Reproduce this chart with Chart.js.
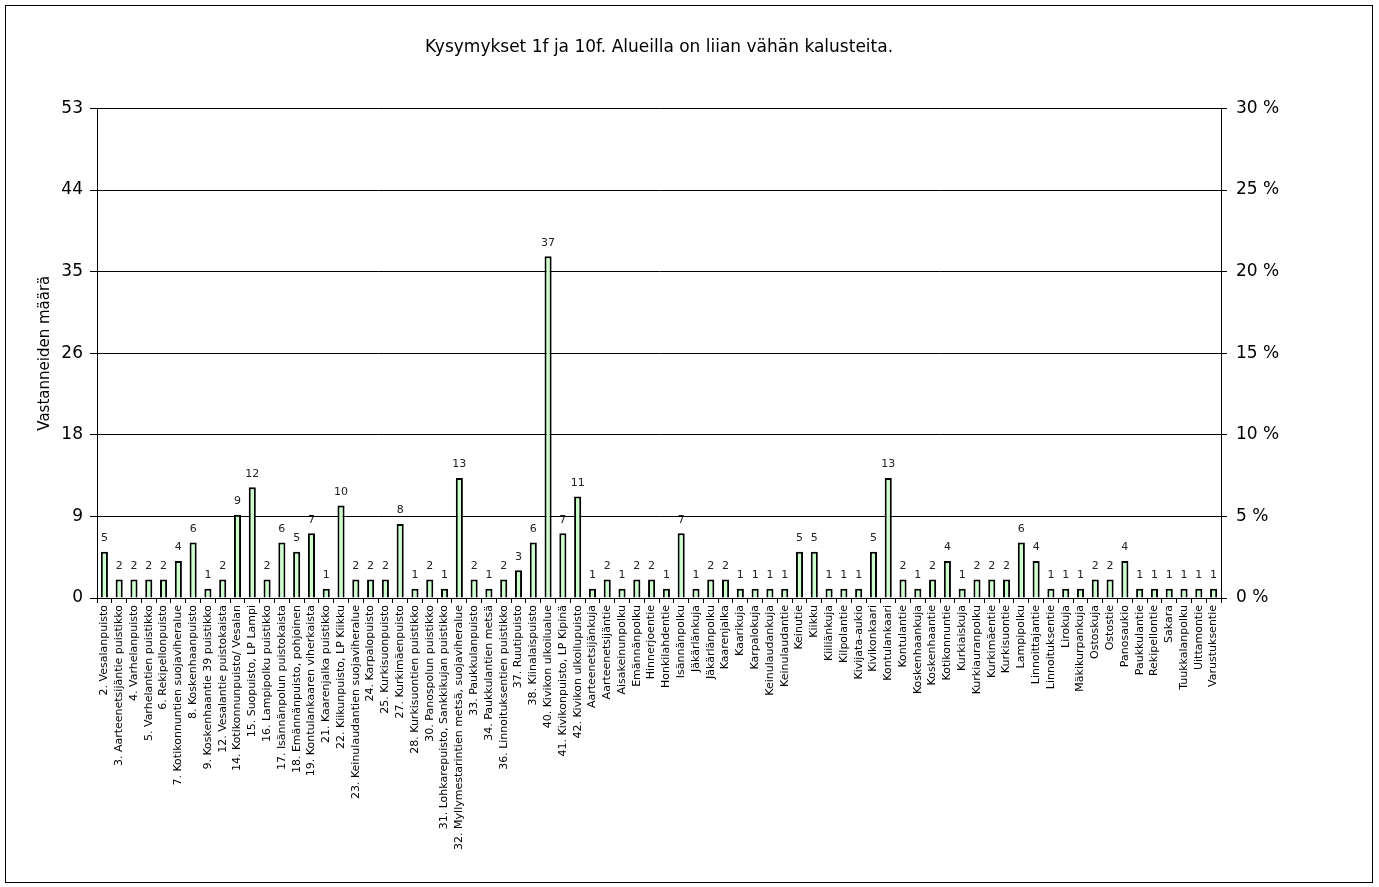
<!DOCTYPE html>
<html><head><meta charset="utf-8">
<script src="https://cdn.jsdelivr.net/npm/chart.js@4.4.1/dist/chart.umd.min.js"></script>
<style>
html,body{margin:0;padding:0;background:#fff;}
#frame{position:absolute;left:5px;top:5px;width:1366px;height:876px;border:1px solid #000;}
#wrap{position:absolute;left:0;top:0;width:1379px;height:887px;}
</style></head><body>
<div id="frame"></div>
<div id="wrap"><canvas id="c" width="1379" height="887"></canvas></div>
<script>
const chartTitle = 'Kysymykset 1f ja 10f. Alueilla on liian vähän kalusteita.';
const yTitle = 'Vastanneiden määrä';
const categories = [
 '2. Vesalanpuisto','3. Aarteenetsijäntie puistikko','4. Varhelanpuisto','5. Varhelantien puistikko','6. Rekipellonpuisto',
 '7. Kotikonnuntien suojaviheralue','8. Koskenhaanpuisto','9. Koskenhaantie 39 puistikko','12. Vesalantie puistokaista','14. Kotikonnunpuisto/ Vesalan',
 '15. Suopuisto, LP Lampi','16. Lampipolku puistikko','17. Isännänpolun puistokaista','18. Emännänpuisto, pohjoinen','19. Kontulankaaren viherkaista',
 '21. Kaarenjalka puistikko','22. Kiikunpuisto, LP Kiikku','23. Keinulaudantien suojaviheralue','24. Karpalopuisto','25. Kurkisuonpuisto',
 '27. Kurkimäenpuisto','28. Kurkisuontien puistikko','30. Panospolun puistikko','31. Lohkarepuisto, Sankkikujan puistikko','32. Myllymestarintien metsä, suojaviheralue',
 '33. Paukkulanpuisto','34. Paukkulantien metsä','36. Linnoituksentien puistikko','37. Ruutipuisto','38. Kiinalaispuisto',
 '40. Kivikon ulkoilualue','41. Kivikonpuisto, LP Kipinä','42. Kivikon ulkoilupuisto','Aarteenetsijänkuja','Aarteenetsijäntie',
 'Aisakeinunpolku','Emännänpolku','Hinnerjoentie','Honkilahdentie','Isännänpolku',
 'Jäkärlänkuja','Jäkärlänpolku','Kaarenjalka','Kaarikuja','Karpalokuja',
 'Keinulaudankuja','Keinulaudantie','Keinutie','Kiikku','Kiiliänkuja',
 'Kilpolantie','Kivijata-aukio','Kivikonkaari','Kontulankaari','Kontulantie',
 'Koskenhaankuja','Koskenhaantie','Kotikonnuntie','Kurkiaiskuja','Kurkiauranpolku',
 'Kurkimäentie','Kurkisuontie','Lampipolku','Linnoittajantie','Linnoituksentie',
 'Lirokuja','Mäkikurpankuja','Ostoskuja','Ostostie','Panosaukio',
 'Paukkulantie','Rekipellontie','Sakara','Tuukkalanpolku','Uittamontie','Varustuksentie'
];
const values = [
 5,2,2,2,2,
 4,6,1,2,9,
 12,2,6,5,7,
 1,10,2,2,2,
 8,1,2,1,13,
 2,1,2,3,6,
 37,7,11,1,2,
 1,2,2,1,7,
 1,2,2,1,1,
 1,1,5,5,1,
 1,1,5,13,2,
 1,2,4,1,2,
 2,2,6,4,1,
 1,1,2,2,4,
 1,1,1,1,1,1
];
const leftTickLabels = ['0','9','18','26','35','44','53'];
const leftMax = 53;
const rightMax = 30;
const rightStep = 5;

const FONT = '"DejaVu Sans", Verdana, sans-serif';

const valueLabels = {
  id: 'valueLabels',
  afterDatasetsDraw(chart) {
    const ctx = chart.ctx;
    const meta = chart.getDatasetMeta(0);
    ctx.save();
    ctx.font = '11px ' + FONT;
    ctx.fillStyle = '#222';
    ctx.textAlign = 'center';
    ctx.textBaseline = 'bottom';
    meta.data.forEach((el, i) => {
      ctx.fillText(String(values[i]), el.x, el.y - 8);
    });
    ctx.restore();
  }
};

new Chart(document.getElementById('c'), {
  type: 'bar',
  data: {
    labels: categories,
    datasets: [{
      data: values,
      yAxisID: 'y',
      backgroundColor: '#ccffcc',
      borderColor: '#000',
      borderWidth: 2,
      barPercentage: 0.48,
      categoryPercentage: 1.0
    }]
  },
  options: {
    responsive: false,
    animation: false,
    layout: { padding: { left: 0, right: 0, top: 0, bottom: 0 } },
    plugins: {
      legend: { display: false },
      tooltip: { enabled: false },
      title: {
        display: true, text: chartTitle, fullSize: false, color: '#000',
        font: { family: FONT, size: 17, weight: 'normal' },
        padding: { top: 37, bottom: 51 }
      }
    },
    scales: {
      x: {
        grid: { display: true, drawOnChartArea: false, drawTicks: true, tickLength: 5, color: '#000', offset: true },
        border: { color: '#000', width: 1 },
        ticks: { autoSkip: false, maxRotation: 90, minRotation: 90, color: '#000', padding: 2,
                 font: { family: FONT, size: 11 } },
        afterFit(s) { s.height = 289; }
      },
      y: {
        position: 'left', min: 0, max: leftMax,
        afterBuildTicks(s) {
          s.ticks = leftTickLabels.map((t, i) => ({ value: leftMax * i / (leftTickLabels.length - 1) }));
        },
        ticks: { callback: (v, i) => leftTickLabels[i], color: '#000', padding: 7,
                 font: { family: FONT, size: 17 } },
        grid: { color: '#000', tickLength: 7 },
        border: { color: '#000', width: 1 },
        title: { display: true, text: yTitle, color: '#000', font: { family: FONT, size: 15 }, padding: { top: 36 } },
        afterFit(s) { s.width = 97; }
      },
      y1: {
        position: 'right', min: 0, max: rightMax,
        ticks: { stepSize: rightStep, callback: v => v + ' %', color: '#000', padding: 9,
                 font: { family: FONT, size: 17 } },
        grid: { drawOnChartArea: false, color: '#000', tickLength: 6 },
        border: { color: '#000', width: 1 },
        afterFit(s) { s.width = 1379 - 1221; }
      }
    }
  },
  plugins: [valueLabels]
});
</script>
</body></html>
